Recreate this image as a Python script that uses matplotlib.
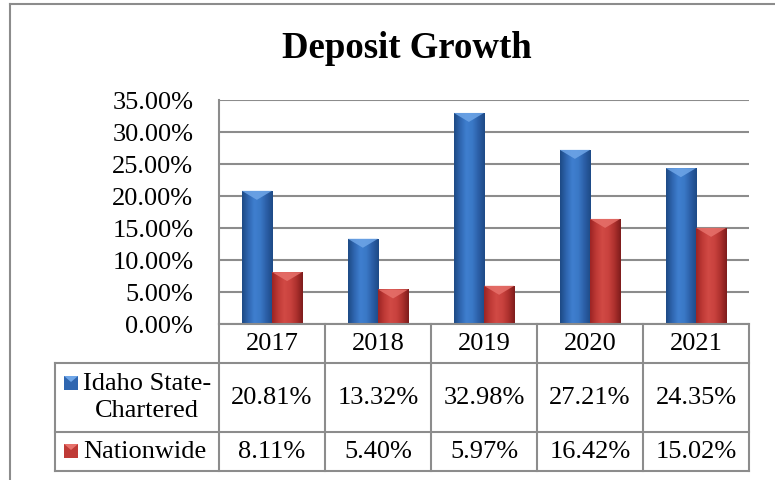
import numpy as np
import matplotlib
matplotlib.use("Agg")
import matplotlib.pyplot as plt
from matplotlib.patches import Polygon, Rectangle
from matplotlib.colors import LinearSegmentedColormap

plt.rcParams['font.family'] = ['Liberation Serif', 'DejaVu Serif']

# Data
years = ["2017", "2018", "2019", "2020", "2021"]
idaho = [20.81, 13.32, 32.98, 27.21, 24.35]
nationwide = [8.11, 5.40, 5.97, 16.42, 15.02]
series_names = ["Idaho State-\nChartered", "Nationwide"]
y_ticks = [0, 5, 10, 15, 20, 25, 30, 35]

W, H = 775, 481
GRAY = "#8c8c8c"
FS = 19

fig = plt.figure(figsize=(W / 100, H / 100), dpi=100)

# plot area in pixels
L, R, T, B = 219, 749, 101, 325
ax = fig.add_axes([L / W, 1 - B / H, (R - L) / W, (B - T) / H])

blue_cmap = LinearSegmentedColormap.from_list(
    "b", ["#1d4a85", "#2f66b0", "#3f7fcf", "#3a78c6", "#2b5ea6", "#1e4a86"])
red_cmap = LinearSegmentedColormap.from_list(
    "r", ["#9c2424", "#bf3a36", "#d14a45", "#c9423e", "#ad302d", "#7e1c1c"])

x = np.arange(len(years))
w = 0.285
bars_b = ax.bar(x - w / 2, idaho, w, color="none", zorder=3)
bars_r = ax.bar(x + w / 2, nationwide, w, color="none", zorder=3)

grad = np.linspace(0, 1, 64).reshape(1, -1)
bevel = 35 * 9 / (B - T)
for bars, cmap, light in [(bars_b, blue_cmap, "#6fa6e8"), (bars_r, red_cmap, "#e7716b")]:
    for b in bars:
        x0, y0 = b.get_x(), b.get_y()
        bw, bh = b.get_width(), b.get_height()
        im = ax.imshow(grad, cmap=cmap, aspect="auto", extent=[x0, x0 + bw, y0, y0 + bh],
                       zorder=3, interpolation="bicubic")
        im.set_clip_path(b)
        tri = Polygon([[x0, y0 + bh], [x0 + bw, y0 + bh], [x0 + bw / 2, y0 + bh - bevel]],
                      closed=True, facecolor=light, edgecolor="none", zorder=4, alpha=0.85)
        ax.add_patch(tri)

ax.set_xlim(-0.5, len(years) - 0.5)
ax.set_ylim(0, 35)
ax.set_yticks(y_ticks)
ax.set_yticklabels([f"{v:.2f}%" for v in y_ticks], fontsize=FS)
ax.set_xticks([])
ax.tick_params(axis="y", length=0, pad=18.5)
ax.yaxis.grid(True, color=GRAY, linewidth=1.5, zorder=0)
ax.set_axisbelow(True)
for s in ["top", "right", "bottom"]:
    ax.spines[s].set_visible(False)
ax.spines["left"].set_color(GRAY)
ax.spines["left"].set_linewidth(1.5)

# overlay in pixel coords for title, table and border
ov = fig.add_axes([0, 0, 1, 1], zorder=5)
ov.set_xlim(0, W)
ov.set_ylim(H, 0)
ov.axis("off")
ov.patch.set_alpha(0)

ov.text(407, 48, "Deposit Growth", fontsize=26.5, fontweight="bold", ha="center", va="center")

# border
ov.plot([10, 10], [5, H], color=GRAY, lw=1.5)
ov.plot([10, W], [5, 5], color=GRAY, lw=1.5)

# table
col_edges = [L + (R - L) * i / len(years) for i in range(len(years) + 1)]
row_y = [B, 364, 433, 472]
tl = 55
ov.plot([L, R], [B, B], color=GRAY, lw=1.5)
for yy in row_y[1:]:
    ov.plot([tl, R], [yy, yy], color=GRAY, lw=1.5)
for xx in col_edges:
    ov.plot([xx, xx], [row_y[0], row_y[-1]], color=GRAY, lw=1.5)
ov.plot([tl, tl], [row_y[1], row_y[-1]], color=GRAY, lw=1.5)

for i, yr in enumerate(years):
    cx = (col_edges[i] + col_edges[i + 1]) / 2
    ov.text(cx, (row_y[0] + row_y[1]) / 2, yr, fontsize=FS, ha="center", va="center")
    ov.text(cx, (row_y[1] + row_y[2]) / 2, f"{idaho[i]:.2f}%", fontsize=FS, ha="center", va="center")
    ov.text(cx, (row_y[2] + row_y[3]) / 2, f"{nationwide[i]:.2f}%", fontsize=FS, ha="center", va="center")

# legend cells
ov.text(147, (row_y[1] + row_y[2]) / 2 - 1, series_names[0], fontsize=FS, ha="center",
        va="center", linespacing=1.3)
ov.text(145, (row_y[2] + row_y[3]) / 2, series_names[1], fontsize=FS, ha="center", va="center")
for (my, c, lc) in [(377, "#2f66b0", "#6fa6e8"), (445, "#bf3a36", "#e7716b")]:
    ov.add_patch(Rectangle((64, my), 14, 14, facecolor=c, edgecolor="none"))
    ov.add_patch(Polygon([[64, my], [78, my], [71, my + 6]], facecolor=lc, edgecolor="none"))

fig.savefig("out.png", dpi=100)
